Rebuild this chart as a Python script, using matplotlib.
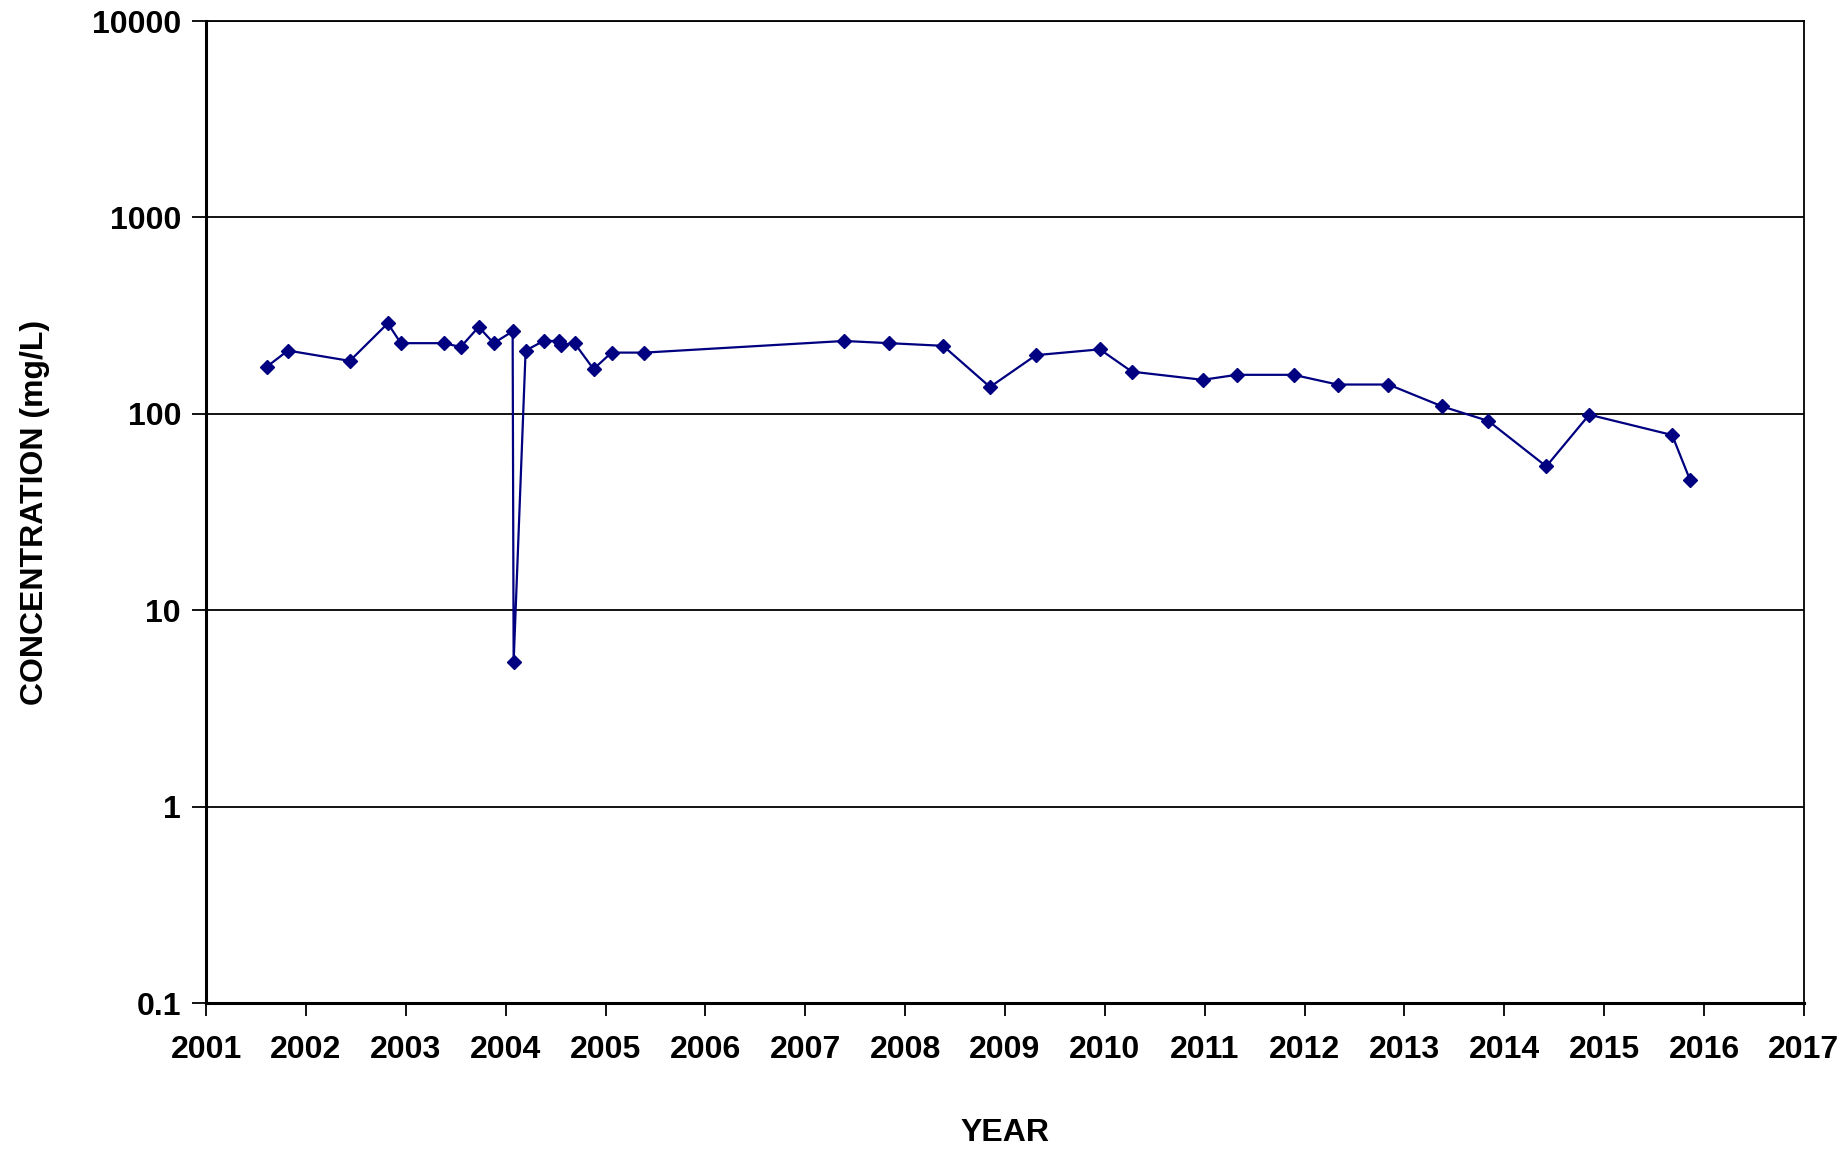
import matplotlib
matplotlib.use('Agg')
import matplotlib.pyplot as plt
from matplotlib.ticker import FixedLocator, NullLocator

# sample dates (decimal years) and concentrations
years = [2001.61, 2001.82, 2002.44, 2002.82, 2002.95, 2003.38, 2003.55, 2003.73,
         2003.88, 2004.07, 2004.08, 2004.20, 2004.38, 2004.53, 2004.55, 2004.69,
         2004.88, 2005.06, 2005.39, 2007.39, 2007.84, 2008.38, 2008.85, 2009.31,
         2009.95, 2010.27, 2010.98, 2011.32, 2011.89, 2012.33, 2012.84, 2013.38,
         2013.84, 2014.42, 2014.85, 2015.68, 2015.86]
conc = [174, 210, 186, 289, 229, 229, 219, 277,
        229, 263, 5.45, 210, 235, 235, 225, 229,
        169, 205, 205, 235, 229, 222, 137, 199,
        213, 164, 149, 158, 158, 141, 141, 109,
        92, 54, 99, 78, 46]

y_ticks = [0.1, 1, 10, 100, 1000, 10000]
y_labels = ['0.1', '1', '10', '100', '1000', '10000']
x_ticks = list(range(2001, 2018))

plt.rcParams['font.family'] = ['Liberation Sans', 'DejaVu Sans']

fig = plt.figure(figsize=(18.43, 11.5), dpi=100)
ax = fig.add_axes([0.1118, 0.1278, 0.867, 0.8539])

ax.plot(years, conc, color='#000080', marker='D', markersize=7, linewidth=1.6)

ax.set_yscale('log')
ax.set_ylim(0.1, 10000)
ax.set_xlim(2001, 2017)
ax.yaxis.set_major_locator(FixedLocator(y_ticks))
ax.yaxis.set_minor_locator(NullLocator())
ax.set_yticklabels(y_labels)
ax.set_xticks(x_ticks)
ax.set_xticklabels([str(x) for x in x_ticks])

ax.grid(axis='y', color='black', linewidth=1.3)
for s in ax.spines.values():
    s.set_linewidth(1.3)
ax.spines['left'].set_linewidth(2.2)
ax.spines['bottom'].set_linewidth(2.2)

ax.tick_params(axis='y', direction='out', length=10, width=1.3, pad=8, labelsize=23)
ax.tick_params(axis='x', direction='out', length=9, width=1.3, pad=14, labelsize=23)
for lab in ax.get_xticklabels() + ax.get_yticklabels():
    lab.set_fontweight('bold')

ax.set_xlabel('YEAR', fontsize=23, fontweight='bold', labelpad=38)
ax.set_ylabel('CONCENTRATION (mg/L)', fontsize=23, fontweight='bold', labelpad=30)

fig.savefig('out.png', dpi=100)
